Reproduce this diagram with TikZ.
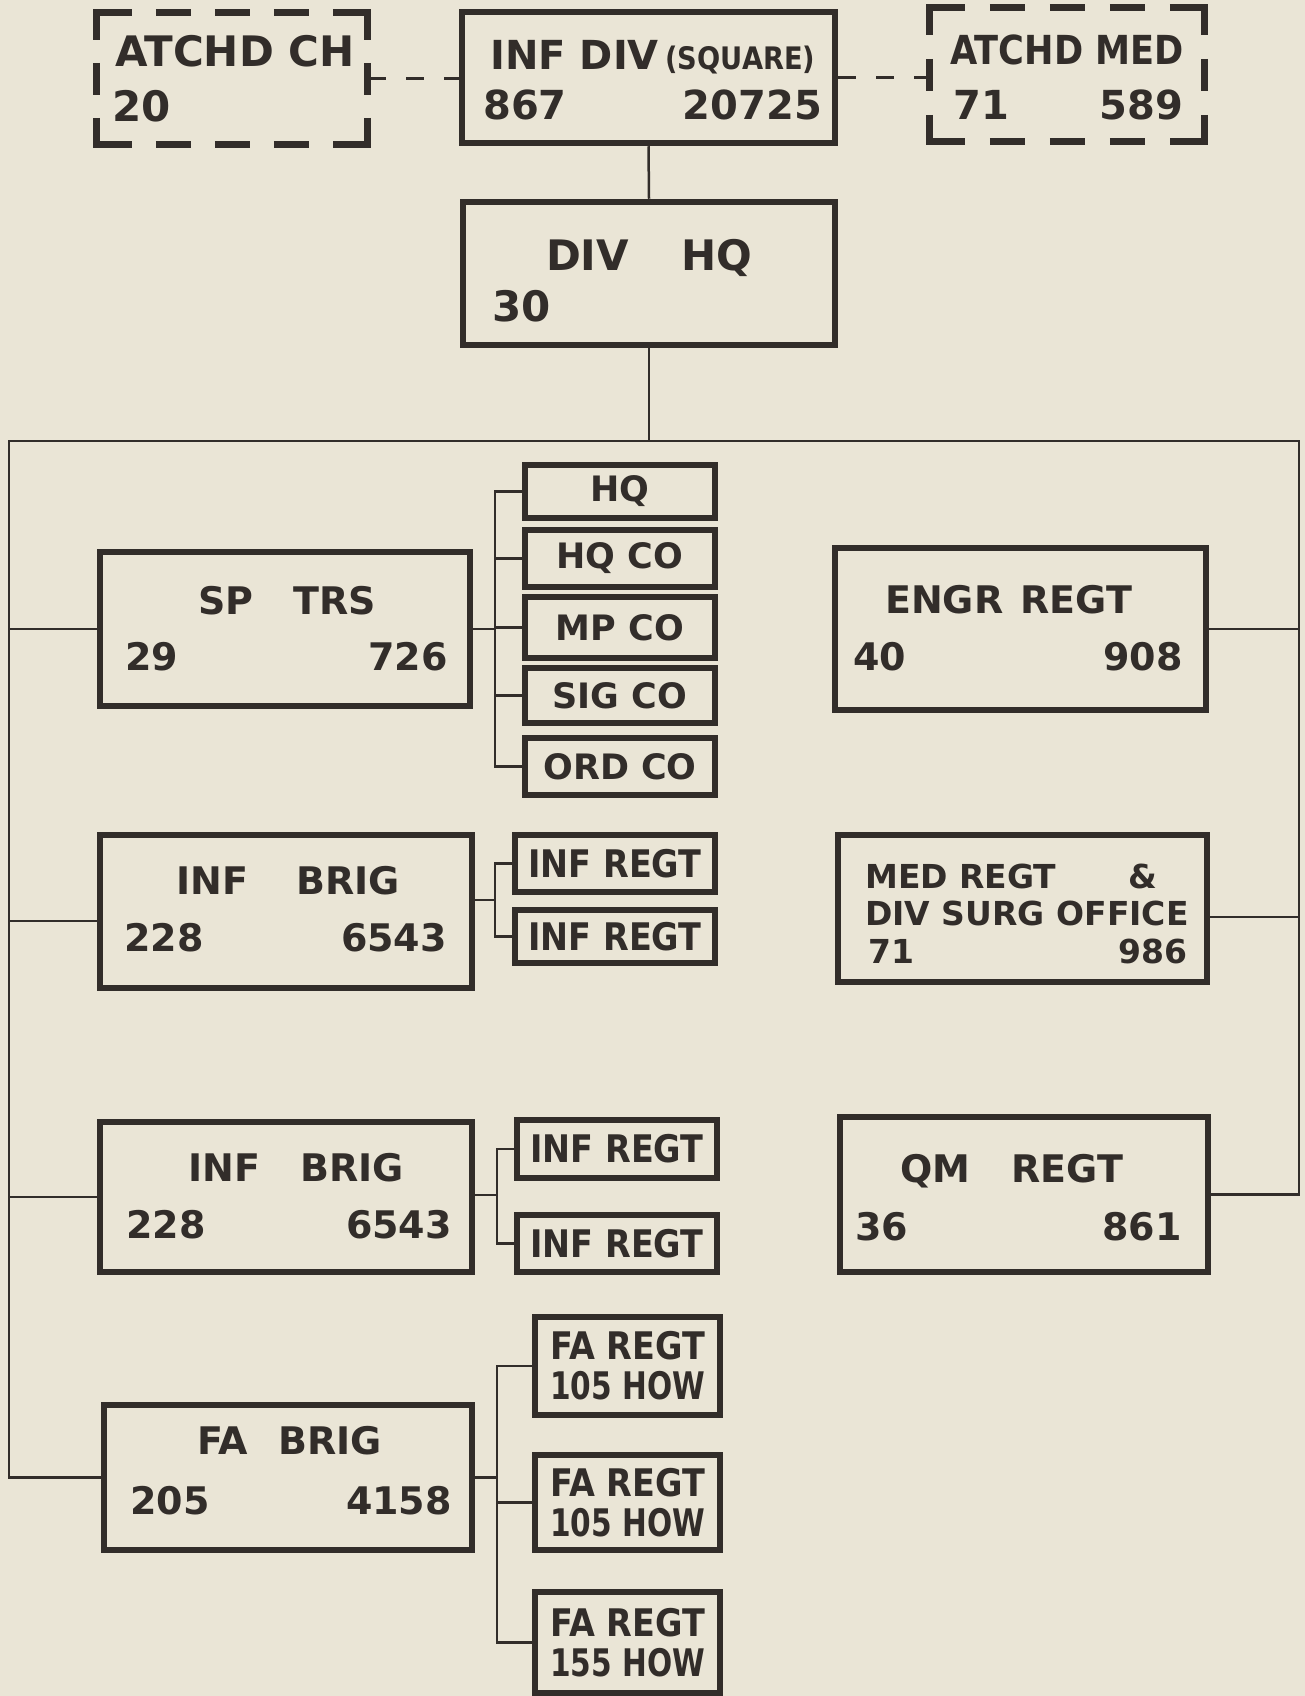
\documentclass[tikz,border=0pt]{standalone}
\usepackage{fontspec}
\newfontfamily\fa{DejaVu Sans}
\newfontfamily\fb{DejaVu Sans}[FakeStretch=0.88]
\newfontfamily\fc{DejaVu Sans}[FakeStretch=0.78]
\usetikzlibrary{calc}
\definecolor{paper}{RGB}{234,229,214}
\definecolor{ink}{RGB}{50,45,42}
\tikzset{
  box/.style={draw=ink, line width=6.5pt, inner sep=0pt},
  sbox/.style={draw=ink, line width=6pt, inner sep=0pt, text=ink, minimum width=190pt},
  conn/.style={draw=ink, line width=2.5pt},
  dconn/.style={draw=ink, line width=3pt, dash pattern=on 18pt off 20pt},
  dframe/.style={draw=ink, line width=7pt},
  toptext/.style={text=ink, inner sep=0pt, font=\fa\bfseries\fontsize{40}{48}\selectfont},
  topbig/.style={text=ink, inner sep=0pt, font=\fa\bfseries\fontsize{42}{48}\selectfont},
  topnarrow/.style={text=ink, inner sep=0pt, font=\fb\bfseries\fontsize{40}{48}\selectfont},
  bigtext/.style={text=ink, inner sep=0pt, font=\fa\bfseries\fontsize{38}{44}\selectfont},
  hqtext/.style={text=ink, inner sep=0pt, font=\fa\bfseries\fontsize{42}{48}\selectfont},
  medtext/.style={text=ink, inner sep=0pt, font=\fa\bfseries\fontsize{33}{37}\selectfont},
  cotext/.style={font=\fa\bfseries\fontsize{35}{38}\selectfont},
  regtext/.style={font=\fb\bfseries\fontsize{38}{40}\selectfont},
  fatext/.style={font=\fb\bfseries\fontsize{38}{40}\selectfont, align=center},
}
\begin{document}
\begin{tikzpicture}[x=1pt,y=-1pt]
\useasboundingbox (0,0) rectangle (1305,1696);
\fill[paper] (0,0) rectangle (1305,1696);

% ---------- top row ----------
\node[box, minimum width=373pt, minimum height=131pt] (div) at (648.5,77.5) {};
\node[inner sep=0pt, minimum width=271pt, minimum height=132pt] (ach) at (232.5,79) {};
\node[inner sep=0pt, minimum width=275pt, minimum height=134pt] (amed) at (1067.5,75) {};
\node[box, minimum width=372pt, minimum height=143pt] (hq) at (649,273.5) {};

% dashed frames
\begin{scope}[shift={(ach.north west)}]
  \draw[dframe] (35,0) -- (0,0) -- (0,27);
  \draw[dframe] (236,0) -- (271,0) -- (271,27);
  \draw[dframe] (0,105) -- (0,132) -- (35,132);
  \draw[dframe] (271,105) -- (271,132) -- (236,132);
  \foreach \a in {59,118,177} {
    \draw[dframe] (\a,0) -- ++(35,0);
    \draw[dframe] (\a,132) -- ++(35,0);
  }
  \draw[dframe] (0,50) -- (0,82);
  \draw[dframe] (271,50) -- (271,82);
\end{scope}
\begin{scope}[shift={(amed.north west)}]
  \draw[dframe] (35,0) -- (0,0) -- (0,27);
  \draw[dframe] (240,0) -- (275,0) -- (275,27);
  \draw[dframe] (0,107) -- (0,134) -- (35,134);
  \draw[dframe] (275,107) -- (275,134) -- (240,134);
  \foreach \a in {60,120,180} {
    \draw[dframe] (\a,0) -- ++(35,0);
    \draw[dframe] (\a,134) -- ++(35,0);
  }
  \draw[dframe] (0,51) -- (0,83);
  \draw[dframe] (275,51) -- (275,83);
\end{scope}

\node[topbig, anchor=base west] (achA) at (115,67) {ATCHD CH};
\node[topbig, anchor=base west] (achB) at (112,122) {20};
\node[toptext, anchor=base west] (divA) at (490,70) {INF DIV\,{\fb\fontsize{31}{31}\selectfont(SQUARE)}};
\node[toptext, anchor=base west] (divB) at (483,120) {867};
\node[toptext, anchor=base east] (divC) at (822,120) {20725};
\node[topnarrow, anchor=base west] (amedA) at (950,65) {ATCHD MED};
\node[toptext, anchor=base west] (amedB) at (953,120) {71};
\node[toptext, anchor=base east] (amedC) at (1183,120) {589};
\node[hqtext, anchor=base] (hqA) at (649,270) {DIV\hspace{52pt}HQ};
\node[hqtext, anchor=base west] (hqB) at (492,321) {30};

% ---------- large boxes ----------
\node[box, minimum width=370pt, minimum height=154pt] (sptrs) at (285,629) {};
\node[box, minimum width=371pt, minimum height=162pt] (engr) at (1020.5,629) {};
\node[box, minimum width=372pt, minimum height=153pt] (ib1) at (286,911.5) {};
\node[box, minimum width=369pt, minimum height=147pt] (medr) at (1022.5,908.5) {};
\node[box, minimum width=372pt, minimum height=150pt] (ib2) at (286,1197) {};
\node[box, minimum width=368pt, minimum height=155pt] (qm) at (1024,1194.5) {};
\node[box, minimum width=368pt, minimum height=145pt] (fab) at (288,1477.5) {};

\node[bigtext, anchor=base] (sptrsA) at (287,614) {SP\hspace{40pt}TRS};
\node[bigtext, anchor=base west] (sptrsB) at (125,670) {29};
\node[bigtext, anchor=base east] (sptrsC) at (448,670) {726};

\node[bigtext, anchor=base] (engrA) at (1008.5,613) {ENGR\hspace{17pt}REGT};
\node[bigtext, anchor=base west] (engrB) at (853,670) {40};
\node[bigtext, anchor=base east] (engrC) at (1183,670) {908};

\node[bigtext, anchor=base] (ib1A) at (288,894) {INF\hspace{48pt}BRIG};
\node[bigtext, anchor=base west] (ib1B) at (124,951) {228};
\node[bigtext, anchor=base east] (ib1C) at (447,951) {6543};

\node[medtext, anchor=base west] (medrA) at (865,888) {MED REGT\hspace{72pt}\&};
\node[medtext, anchor=base west] (medrB) at (865,925) {DIV SURG OFFICE};
\node[medtext, anchor=base west] (medrC) at (868,963) {71};
\node[medtext, anchor=base east] (medrD) at (1188,963) {986};

\node[bigtext, anchor=base] (ib2A) at (296,1181) {INF\hspace{40pt}BRIG};
\node[bigtext, anchor=base west] (ib2B) at (126,1238) {228};
\node[bigtext, anchor=base east] (ib2C) at (452,1238) {6543};

\node[bigtext, anchor=base] (qmA) at (1011.5,1182) {QM\hspace{41pt}REGT};
\node[bigtext, anchor=base west] (qmB) at (855,1240) {36};
\node[bigtext, anchor=base east] (qmC) at (1182,1240) {861};

\node[bigtext, anchor=base] (fabA) at (289.5,1454) {FA\hspace{30pt}BRIG};
\node[bigtext, anchor=base west] (fabB) at (130,1514) {205};
\node[bigtext, anchor=base east] (fabC) at (452,1514) {4158};

% ---------- small boxes ----------
\node[sbox, cotext, minimum height=53pt] (shq) at (620,491.5) {HQ};
\node[sbox, cotext, minimum height=57pt] (shqco) at (620,558.5) {HQ CO};
\node[sbox, cotext, minimum height=61pt] (smp) at (620,627.5) {MP CO};
\node[sbox, cotext, minimum height=55pt] (ssig) at (620,695.5) {SIG CO};
\node[sbox, cotext, minimum height=57pt] (sord) at (620,766.5) {ORD CO};

\node[sbox, regtext, minimum width=200pt, minimum height=57pt] (ir1) at (615,863.5) {INF REGT};
\node[sbox, regtext, minimum width=200pt, minimum height=53pt] (ir2) at (615,936.5) {INF REGT};
\node[sbox, regtext, minimum width=200pt, minimum height=58pt] (ir3) at (617,1149) {INF REGT};
\node[sbox, regtext, minimum width=200pt, minimum height=57pt] (ir4) at (617,1243.5) {INF REGT};

\node[sbox, fatext, minimum width=185pt, minimum height=98pt] (fa1) at (627.5,1366) {FA REGT\\{\fc 105 HOW}};
\node[sbox, fatext, minimum width=185pt, minimum height=95pt] (fa2) at (627.5,1502.5) {FA REGT\\{\fc 105 HOW}};
\node[sbox, fatext, minimum width=185pt, minimum height=101pt] (fa3) at (627.5,1642.5) {FA REGT\\{\fc 155 HOW}};

% ---------- connectors ----------
\draw[dconn] (ach.east) -- (ach.east -| div.west);
\draw[dconn] (div.east) -- (div.east -| amed.west);
\draw[conn] (div.south) -- (hq.north);

\coordinate (busL) at (9,441);
\coordinate (busR) at (1299,441);
\draw[conn] (hq.south) -- (hq.south |- busL);
\draw[conn] (fab.west) -- (fab.west -| busL) -- (busL) -- (busR) -- (qm.east -| busR) -- (qm.east);
\draw[conn] (sptrs.west) -- (sptrs.west -| busL);
\draw[conn] ([yshift=-9.5pt]ib1.west) -- ([yshift=-9.5pt]ib1.west -| busL);
\draw[conn] (ib2.west) -- (ib2.west -| busL);
\draw[conn] (engr.east) -- (engr.east -| busR);
\draw[conn] ([yshift=-8.5pt]medr.east) -- ([yshift=-8.5pt]medr.east -| busR);

\coordinate (b1) at (495,0);
\coordinate (b2) at (497,0);
\draw[conn] (sptrs.east) -- (sptrs.east -| b1);
\draw[conn] (shq.west) -- (shq.west -| b1) -- (sord.west -| b1) -- (sord.west);
\foreach \n in {shqco,smp,ssig} \draw[conn] (\n.west) -- (\n.west -| b1);
\draw[conn] ([yshift=11.5pt]ib1.east) -- ([yshift=11.5pt]ib1.east -| b1);
\draw[conn] (ir1.west) -- (ir1.west -| b1) -- (ir2.west -| b1) -- (ir2.west);
\draw[conn] ([yshift=2pt]ib2.east) -- ([yshift=2pt]ib2.east -| b2);
\draw[conn] (ir3.west) -- (ir3.west -| b2) -- (ir4.west -| b2) -- (ir4.west);
\draw[conn] (fab.east) -- (fab.east -| b2);
\draw[conn] (fa1.west) -- (fa1.west -| b2) -- (fa3.west -| b2) -- (fa3.west);
\draw[conn] (fa2.west) -- (fa2.west -| b2);
\end{tikzpicture}
\end{document}
